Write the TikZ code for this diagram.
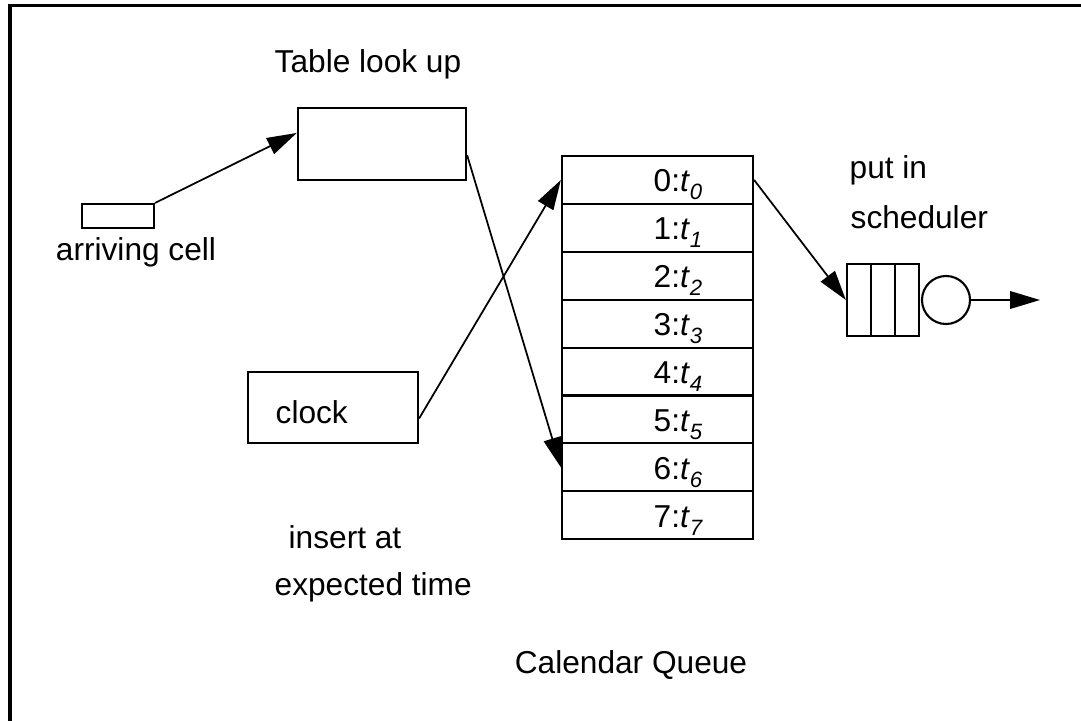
\documentclass[tikz,border=0pt]{standalone}
\usepackage{fontspec}
\setmainfont{Liberation Sans}
\usetikzlibrary{arrows.meta,calc}

\begin{document}
\begin{tikzpicture}[x=0.01cm,y=-0.01cm,
  every node/.style={font=\fontsize{9}{11}\selectfont},
  box/.style={draw,line width=0.6pt,inner sep=0pt},
  slot/.style={box,minimum width=1.91cm,minimum height=0.479cm},
  txt/.style={inner sep=0pt,anchor=base west},
  link/.style={line width=0.5pt,-{Triangle[length=8.5pt,width=5pt]}}]
\useasboundingbox (0,0) rectangle (1081,721);
\draw[line width=0.9pt] (1081,5.5) -- (10,5.5) -- (10,721);

\node[txt,anchor=base] (tablelabel) at (368,73) {Table look up};
\node[box,minimum width=1.68cm,minimum height=0.72cm] (table) at (382,144) {};
\node[box,minimum width=0.72cm,minimum height=0.24cm] (cell) at (118,216) {};
\node[txt,anchor=base] (celllabel) at (136,260) {arriving cell};
\node[box,minimum width=1.7cm,minimum height=0.71cm] (clock) at (333,407.5) {};
\node[txt] (clocklabel) at (275,423) {clock};

\foreach \i in {0,...,7}{
  \node[slot] (row\i) at (657.5,{156+47.9*(\i+0.5)}) {};
  \node[txt] (slotlabel\i) at (653,{192+47.9*\i})
    {\i:\textit{t}\raisebox{-2.2pt}{\fontsize{6.3}{7}\selectfont\textit{\i}}};
}

\node[box,minimum width=0.72cm,minimum height=0.72cm] (sched) at (883,300) {};
\foreach \k in {1,2}
  \draw[line width=0.6pt] ($(sched.north west)!\k/3!(sched.north east)$) -- ($(sched.south west)!\k/3!(sched.south east)$);
\node[box,circle,minimum size=0.48cm] (server) at (946,300) {};
\coordinate (out) at (1040,300);

\node[txt] (putin) at (849,178) {put in};
\node[txt] (putsched) at (850,228) {scheduler};
\node[txt] (insertat) at (288,548) {insert at};
\node[txt] (expected) at (274,595) {expected time};
\node[txt,anchor=base] (calq) at (631,673) {Calendar Queue};

\draw[link] (cell.north east) -- ($(table.north west)!0.35!(table.south west)$);
\draw[link] ($(table.north east)!0.65!(table.south east)$) -- (row6.west);
\draw[link] ($(clock.north east)!0.65!(clock.south east)$) -- (row0.west);
\draw[link] (row0.east) -- (sched.west);
\draw[link] (server.east) -- (out);
\end{tikzpicture}
\end{document}
